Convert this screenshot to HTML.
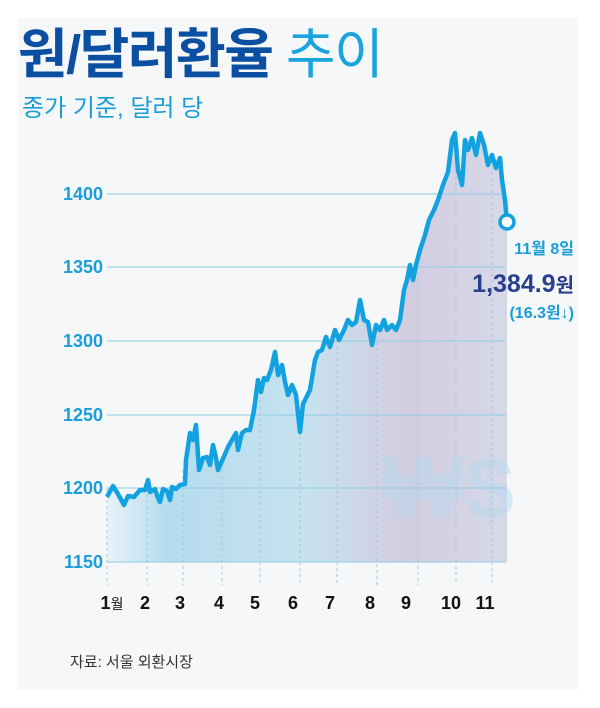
<!DOCTYPE html>
<html><head><meta charset="utf-8"><style>
body{margin:0;background:#fff;width:600px;height:708px;overflow:hidden;font-family:"Liberation Sans","Noto Sans CJK KR",sans-serif}
</style></head><body>
<svg width="600" height="708" xmlns="http://www.w3.org/2000/svg" style="position:absolute;left:0;top:0">
<defs>
<linearGradient id="g" x1="0" x2="1" y1="0" y2="0">
<stop offset="0" stop-color="#e8f3f8"/>
<stop offset="0.15" stop-color="#b5dcee"/>
<stop offset="0.5" stop-color="#c6e2ef"/>
<stop offset="0.75" stop-color="#d3cde0"/>
<stop offset="1" stop-color="#d6d8e8"/>
</linearGradient>
</defs>
<rect x="18" y="18" width="560" height="672" fill="#f5f7f8"/>
<text x="18" y="73" font-size="54" font-weight="bold" fill="#0b4fa3" letter-spacing="-1.5">원/달러환율 <tspan font-weight="normal" fill="#1aa3df">추이</tspan></text>
<text x="22" y="116" font-size="24" fill="#1a9dd9">종가 기준, 달러 당</text>
<polygon fill="url(#g)" points="107,562 107,497 113,486 118,494 124,505 128,496 134,497 140,490 145,490 148,480 150,492 155,489 158,498 160,502 163,489 167,491 170,500 172,487 176,489 180,485 185,484 186,460 190,433 193,440 196,425 199,470 203,458 207,457 210,465 213,445 216,458 218,470 222,461 228,447 232,440 236,433 238,450 242,433 246,430 250,430 254,410 258,380 261,392 264,378 267,380 271,370 275,352 278,375 282,365 285,382 288,395 292,385 296,395 300,432 303,404 306,398 310,390 315,360 318,352 322,350 326,337 330,347 335,330 339,340 344,330 348,320 352,325 356,322 360,300 364,320 368,322 372,345 376,325 380,330 384,320 387,330 392,325 396,330 400,320 404,290 407,280 410,265 413,280 416,265 420,250 425,235 429,220 434,210 438,200 443,185 448,172 452,140 455,133 458,170 462,185 465,140 468,150 472,138 476,155 480,133 484,145 488,165 492,155 496,168 500,158 502,180 505,200 507,222 507,562"/>
<text x="382" y="518" font-size="88" font-weight="bold" fill="#b4d9ef" opacity="0.45">₩$</text>
<g stroke="#8fcbe6" stroke-width="1">
<line x1="107" x2="506" y1="194" y2="194"/><line x1="107" x2="506" y1="267" y2="267"/><line x1="107" x2="506" y1="341" y2="341"/><line x1="107" x2="506" y1="415" y2="415"/><line x1="107" x2="506" y1="488" y2="488"/><line x1="107" x2="506" y1="562" y2="562"/>
</g>
<g stroke="#a9c7d8" stroke-width="1" stroke-dasharray="3,3">
<line x1="107" x2="107" y1="488" y2="585"/><line x1="147" x2="147" y1="488" y2="585"/><line x1="183" x2="183" y1="470" y2="585"/><line x1="222" x2="222" y1="470" y2="585"/><line x1="260" x2="260" y1="400" y2="585"/><line x1="300" x2="300" y1="430" y2="585"/><line x1="337" x2="337" y1="340" y2="585"/><line x1="377" x2="377" y1="330" y2="585"/><line x1="418" x2="418" y1="260" y2="585"/><line x1="456" x2="456" y1="170" y2="585"/><line x1="492" x2="492" y1="160" y2="585"/>
</g>
<g font-size="18" font-weight="bold" fill="#1a9dd9" text-anchor="end">
<text x="103" y="200">1400</text><text x="103" y="273">1350</text><text x="103" y="347">1300</text><text x="103" y="421">1250</text><text x="103" y="494">1200</text><text x="103" y="568">1150</text>
</g>
<g font-size="18" font-weight="bold" fill="#111" text-anchor="middle">
<text x="112" y="609">1<tspan font-size="14" font-weight="normal">월</tspan></text><text x="145" y="609">2</text><text x="180" y="609">3</text><text x="219" y="609">4</text><text x="255" y="609">5</text><text x="293" y="609">6</text><text x="330" y="609">7</text><text x="370" y="609">8</text><text x="406" y="609">9</text><text x="451" y="609">10</text><text x="485" y="609">11</text>
</g>
<polyline fill="none" stroke="#13a2e0" stroke-width="4.5" stroke-linejoin="round" points="107,497 113,486 118,494 124,505 128,496 134,497 140,490 145,490 148,480 150,492 155,489 158,498 160,502 163,489 167,491 170,500 172,487 176,489 180,485 185,484 186,460 190,433 193,440 196,425 199,470 203,458 207,457 210,465 213,445 216,458 218,470 222,461 228,447 232,440 236,433 238,450 242,433 246,430 250,430 254,410 258,380 261,392 264,378 267,380 271,370 275,352 278,375 282,365 285,382 288,395 292,385 296,395 300,432 303,404 306,398 310,390 315,360 318,352 322,350 326,337 330,347 335,330 339,340 344,330 348,320 352,325 356,322 360,300 364,320 368,322 372,345 376,325 380,330 384,320 387,330 392,325 396,330 400,320 404,290 407,280 410,265 413,280 416,265 420,250 425,235 429,220 434,210 438,200 443,185 448,172 452,140 455,133 458,170 462,185 465,140 468,150 472,138 476,155 480,133 484,145 488,165 492,155 496,168 500,158 502,180 505,200 507,222"/>
<circle cx="507" cy="222" r="7" fill="#fff" stroke="#13a2e0" stroke-width="3.5"/>
<text x="574" y="254" font-size="16" font-weight="bold" fill="#1a9dd9" text-anchor="end">11월 8일</text>
<text x="574" y="292" font-size="25" font-weight="bold" fill="#2b3f8f" text-anchor="end">1,384.9<tspan font-size="20">원</tspan></text>
<text x="574" y="318" font-size="16" font-weight="bold" fill="#1a9dd9" text-anchor="end">(16.3원↓)</text>
<text x="70" y="667" font-size="15" fill="#333">자료: 서울 외환시장</text>
</svg>
</body></html>
